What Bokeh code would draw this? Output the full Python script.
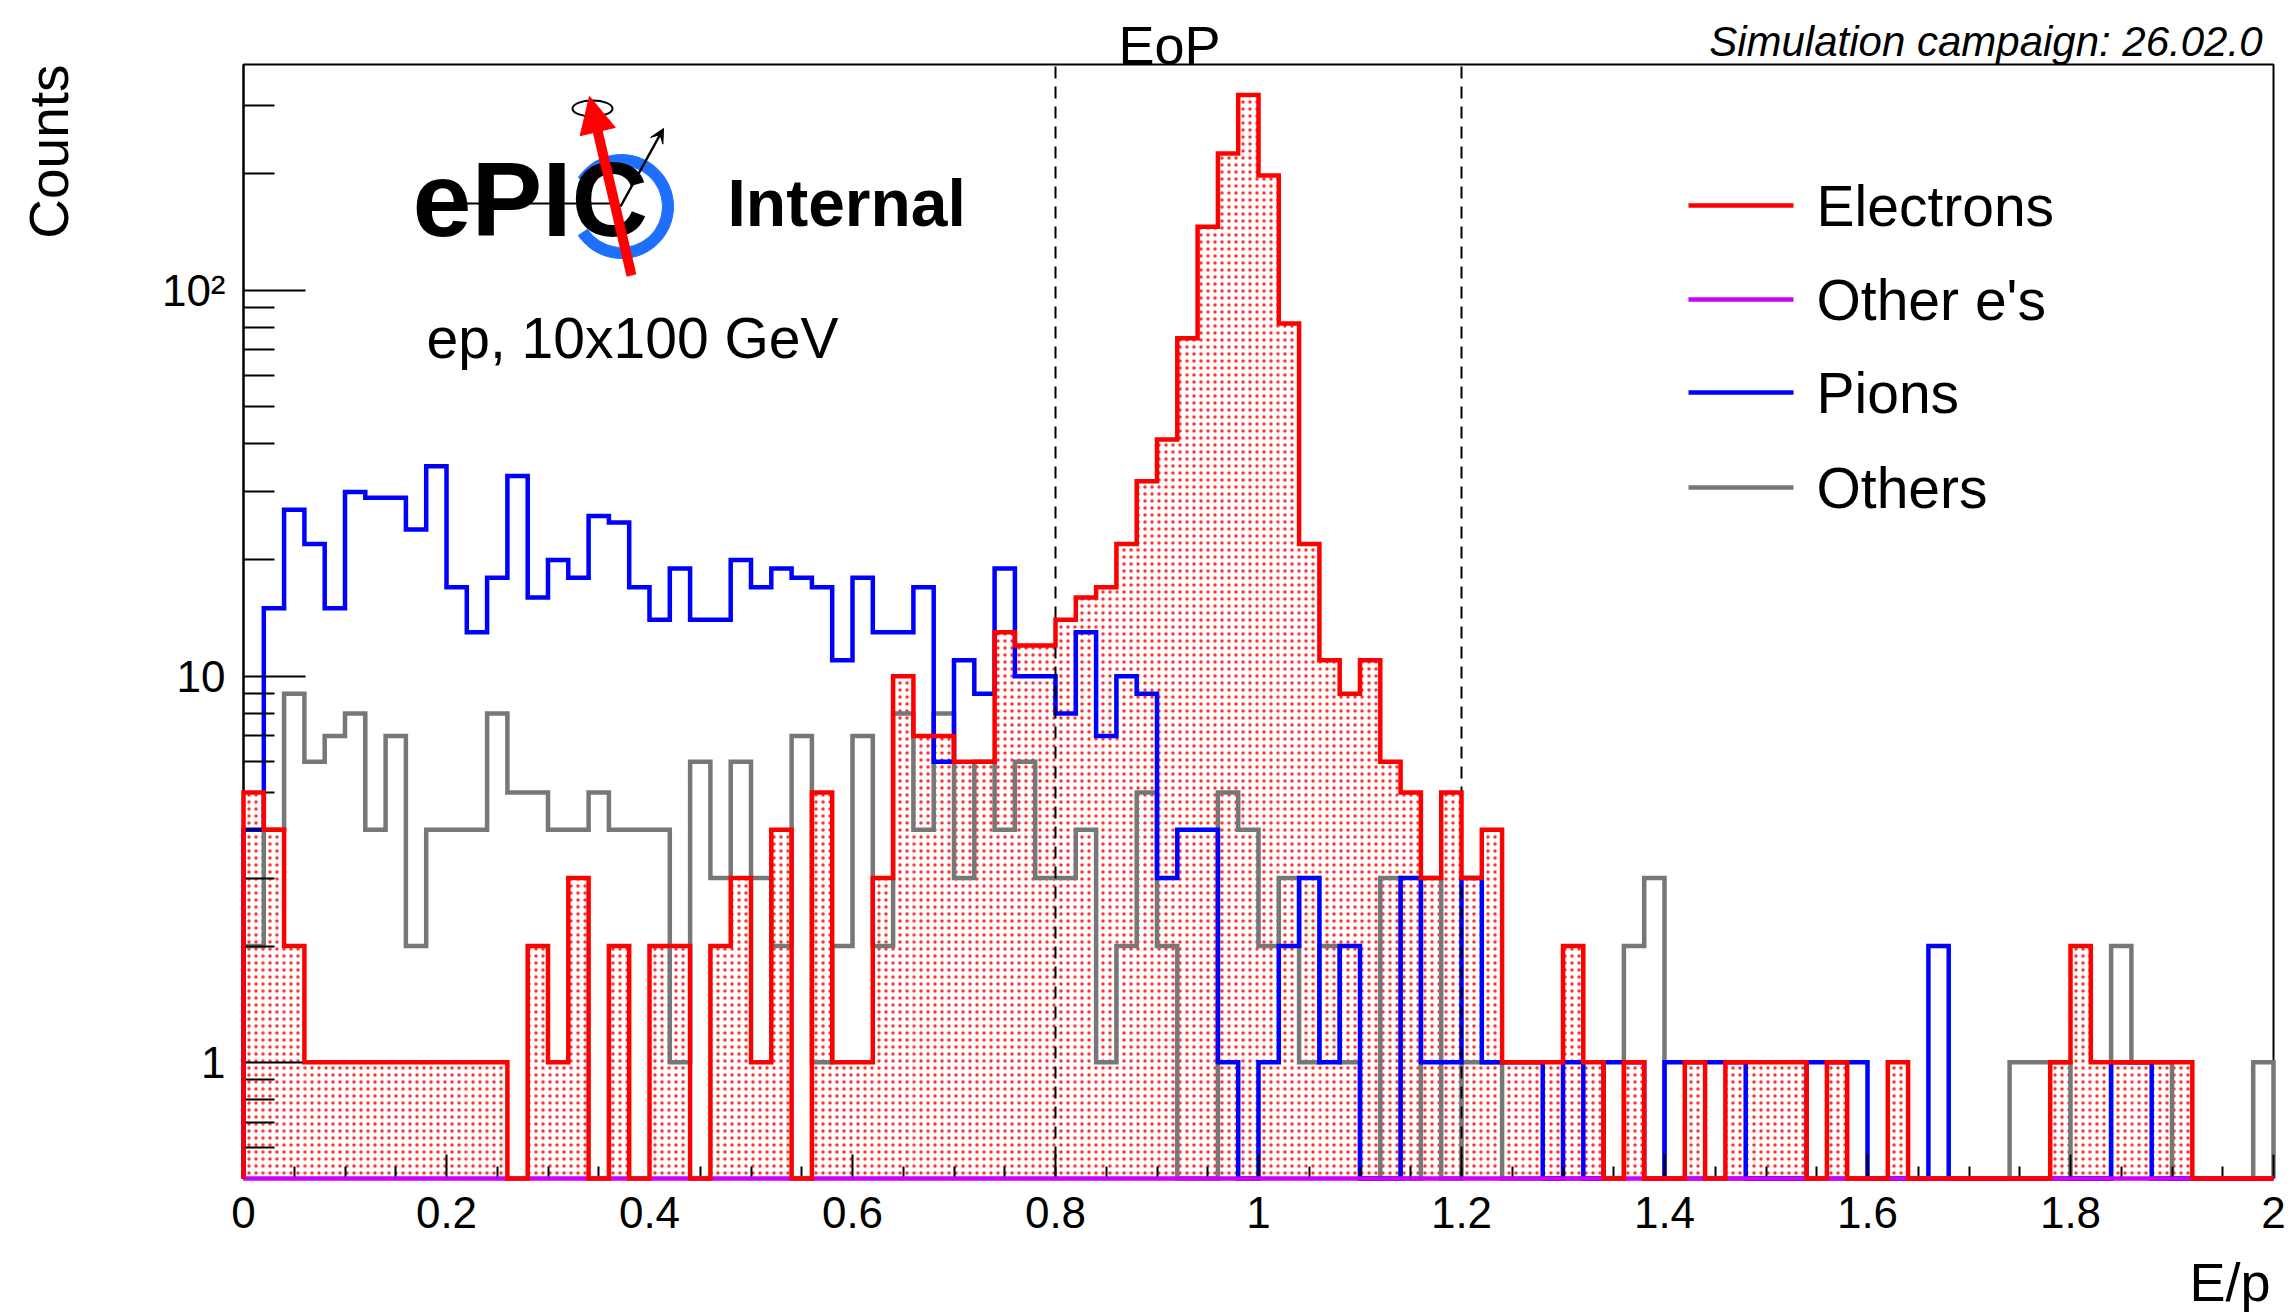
import math
from bokeh.plotting import figure
from bokeh.models import FixedTicker, Label, Arrow, NormalHead, VeeHead, Range1d
from bokeh.embed import file_html
from bokeh.resources import INLINE

# ---------------- data ----------------
X_MIN, X_MAX = 0.0, 2.0
N_BINS = 100
Y_MIN, Y_MAX = 0.5, 384.0
cut_lines = [0.8, 1.2]

series_names = ["Electrons", "Other e's", "Pions", "Others"]
series_colors = ["#ff0000", "#cc00ff", "#0000ff", "#777777"]

electrons = [5, 4, 2, 1, 1, 1, 1, 1, 1, 1,
             1, 1, 1, 0, 2, 1, 3, 0, 2, 0,
             2, 2, 0, 2, 3, 1, 4, 0, 5, 1,
             1, 3, 10, 7, 7, 6, 6, 13, 12, 12,
             14, 16, 17, 22, 32, 41, 75, 146, 226, 320,
             198, 82, 22, 11, 9, 11, 6, 5, 3, 5,
             3, 4, 1, 1, 1, 2, 1, 0, 1, 0,
             0, 1, 0, 1, 1, 1, 1, 0, 1, 0,
             0, 1, 0, 0, 0, 0, 0, 0, 0, 1,
             2, 1, 1, 1, 1, 1, 0, 0, 0, 0]

other_es = [0, 0, 0, 0, 0, 0, 0, 0, 0, 0,
            0, 0, 0, 0, 0, 0, 0, 0, 0, 0,
            0, 0, 0, 0, 0, 0, 0, 0, 0, 0,
            0, 0, 0, 0, 0, 0, 0, 0, 0, 0,
            0, 0, 0, 0, 0, 0, 0, 0, 0, 0,
            0, 0, 0, 0, 0, 0, 0, 0, 0, 0,
            0, 0, 0, 0, 0, 0, 0, 0, 0, 0,
            0, 0, 0, 0, 0, 0, 0, 0, 0, 0,
            0, 0, 0, 0, 0, 0, 0, 0, 0, 0,
            0, 0, 0, 0, 0, 0, 0, 0, 0, 0]

pions = [4, 15, 27, 22, 15, 30, 29, 29, 24, 35,
         17, 13, 18, 33, 16, 20, 18, 26, 25, 17,
         14, 19, 14, 14, 20, 17, 19, 18, 17, 11,
         18, 13, 13, 17, 6, 11, 9, 19, 10, 10,
         8, 13, 7, 10, 9, 3, 4, 4, 1, 0,
         1, 2, 3, 1, 2, 0, 0, 3, 1, 1,
         3, 1, 1, 1, 0, 1, 0, 1, 1, 0,
         1, 1, 1, 1, 0, 0, 0, 1, 1, 1,
         0, 0, 0, 2, 0, 0, 0, 0, 0, 0,
         0, 0, 1, 1, 0, 0, 0, 0, 0, 0]

others = [2, 4, 9, 6, 7, 8, 4, 7, 2, 4,
          4, 4, 8, 5, 5, 4, 4, 5, 4, 4,
          4, 1, 6, 3, 6, 3, 2, 7, 1, 2,
          7, 2, 8, 4, 8, 3, 6, 4, 6, 3,
          3, 4, 1, 2, 5, 2, 0, 0, 5, 4,
          2, 3, 1, 2, 1, 0, 3, 0, 3, 0,
          1, 1, 0, 0, 0, 0, 0, 0, 2, 3,
          0, 0, 0, 0, 0, 0, 0, 0, 0, 0,
          0, 0, 0, 0, 0, 0, 0, 1, 1, 1,
          0, 0, 2, 1, 1, 0, 0, 0, 0, 1]

x_ticks = [0, 0.2, 0.4, 0.6, 0.8, 1, 1.2, 1.4, 1.6, 1.8, 2]
x_tick_labels = ["0", "0.2", "0.4", "0.6", "0.8", "1", "1.2", "1.4", "1.6", "1.8", "2"]
y_ticks = [1, 10, 100]
y_tick_labels = ["1", "10", "10\u00b2"]

# ---------------- layout helpers (canvas pixels -> data) ----------------
W, H = 2295, 1313
FL, FT, FR, FB = 243, 64, 2273, 1178  # histogram frame edges, canvas pixels


def dx(px):
    return X_MIN + (px - FL) / (FR - FL) * (X_MAX - X_MIN)


def dy(py):
    lo, hi = math.log10(Y_MIN), math.log10(Y_MAX)
    return 10 ** (lo + (FB - py) / (FB - FT) * (hi - lo))


bw = (X_MAX - X_MIN) / N_BINS
edges = [X_MIN + i * bw for i in range(N_BINS + 1)]


def step_path(counts):
    xs, ys = [edges[0]], [Y_MIN]
    for i, c in enumerate(counts):
        v = c if c > 0 else Y_MIN
        xs += [edges[i], edges[i + 1]]
        ys += [v, v]
    xs.append(edges[-1])
    ys.append(Y_MIN)
    return xs, ys


p = figure(width=W, height=H, x_range=Range1d(dx(0), dx(W)), y_range=Range1d(dy(H), dy(0)),
           y_axis_type="log", output_backend="svg", toolbar_location=None,
           min_border_left=0, min_border_right=0, min_border_top=0, min_border_bottom=0)
p.title.visible = False
p.grid.visible = False
p.outline_line_color = None
p.background_fill_color = "white"
p.border_fill_color = "white"

# axes drawn at the histogram frame edges
p.xaxis.fixed_location = Y_MIN
p.xaxis.bounds = (X_MIN, X_MAX)
p.yaxis.fixed_location = X_MIN
p.yaxis.bounds = (Y_MIN, Y_MAX)
p.xaxis.ticker = FixedTicker(ticks=x_ticks,
                             minor_ticks=[round(0.05 * i, 2) for i in range(41) if i % 4 != 0])
p.xaxis.major_label_overrides = {t: s for t, s in zip(x_ticks, x_tick_labels)}
p.yaxis.ticker = FixedTicker(ticks=y_ticks,
                             minor_ticks=[0.6, 0.7, 0.8, 0.9, 2, 3, 4, 5, 6, 7, 8, 9,
                                          20, 30, 40, 50, 60, 70, 80, 90, 200, 300])
p.yaxis.major_label_overrides = {t: s for t, s in zip(y_ticks, y_tick_labels)}
for ax in (p.xaxis, p.yaxis):
    ax.major_tick_out = 0
    ax.minor_tick_out = 0
    ax.axis_line_width = 2
    ax.major_tick_line_width = 2
    ax.minor_tick_line_width = 2
    ax.major_label_text_font = "Liberation Sans"
    ax.major_label_text_font_size = "44px"
    ax.major_label_text_color = "black"
p.xaxis.major_tick_in = 24
p.xaxis.minor_tick_in = 12
p.xaxis.major_label_standoff = 18
p.yaxis.major_tick_in = 62
p.yaxis.minor_tick_in = 31
p.yaxis.major_label_standoff = 18

# frame box (top and right edges)
p.quad(left=[X_MIN], right=[X_MAX], bottom=[Y_MIN], top=[Y_MAX], fill_color=None,
       line_color="black", line_width=2)

# histograms
e_tops = [c if c > 0 else Y_MIN for c in electrons]
p.quad(left=edges[:-1], right=edges[1:], bottom=Y_MIN, top=e_tops,
       fill_alpha=0, line_color=None, hatch_pattern="dot", hatch_color=series_colors[0],
       hatch_scale=7, hatch_weight=1.0, hatch_alpha=0.8)

for counts, col, lvl in [(others, series_colors[3], "glyph"), (pions, series_colors[2], "glyph"),
                         (other_es, series_colors[1], "overlay"),
                         (electrons, series_colors[0], "overlay")]:
    xs, ys = step_path(counts)
    p.line(xs, ys, line_color=col, line_width=4.5, line_join="miter", level=lvl)

# cut lines
p.segment(x0=cut_lines, y0=[Y_MIN] * len(cut_lines), x1=cut_lines, y1=[Y_MAX] * len(cut_lines),
          line_color="black", line_width=2, line_dash="12 8")

# legend (drawn by hand, ROOT-style, no frame)
leg_y = [205, 299, 392, 487]
for name, col, yy in zip(series_names, series_colors, leg_y):
    p.segment(x0=[dx(1688)], y0=[dy(yy)], x1=[dx(1793)], y1=[dy(yy)], line_color=col, line_width=4.5)
    p.add_layout(Label(x=dx(1816), y=dy(yy), text=name, text_font="Liberation Sans",
                       text_font_size="57px", text_align="left", text_baseline="middle",
                       text_color="black"))

# ePIC logo
p.annular_wedge(x=[dx(621)], y=[dy(206)], inner_radius=41, outer_radius=52,
                inner_radius_units="screen", outer_radius_units="screen",
                start_angle=-2.55, end_angle=2.55, color="#1f6fff")
p.add_layout(Label(x=dx(412), y=dy(198), text="ePIC", text_font="Liberation Sans",
                   text_font_style="bold", text_font_size="106px", text_align="left",
                   text_baseline="middle", text_color="black"))
p.segment(x0=[dx(420)], y0=[dy(203)], x1=[dx(618)], y1=[dy(203)], line_color="black", line_width=2)
p.add_layout(Arrow(x_start=dx(631), y_start=dy(275), x_end=dx(589), y_end=dy(96),
                   line_color="#ff0000", line_width=10,
                   end=NormalHead(size=36, fill_color="#ff0000", line_color="#ff0000")))
p.add_layout(Arrow(x_start=dx(620), y_start=dy(206), x_end=dx(663), y_end=dy(128),
                   line_color="black", line_width=2.5,
                   end=VeeHead(size=14, fill_color="black", line_color="black")))
p.ellipse(x=[dx(592)], y=[dy(108)], width=40, height=16, width_units="screen",
          height_units="screen", fill_color=None, line_color="black", line_width=2)

p.add_layout(Label(x=dx(727), y=dy(202), text="Internal", text_font="Liberation Sans",
                   text_font_style="bold", text_font_size="66px", text_align="left",
                   text_baseline="middle", text_color="black"))
p.add_layout(Label(x=dx(426), y=dy(337), text="ep, 10x100 GeV", text_font="Liberation Sans",
                   text_font_size="57px", text_align="left", text_baseline="middle",
                   text_color="black"))

# outer texts
p.add_layout(Label(x=dx(1169), y=dy(44), text="EoP", text_font="Liberation Sans",
                   text_font_size="54px", text_align="center", text_baseline="middle",
                   text_color="black"))
p.add_layout(Label(x=dx(2262), y=dy(41), text="Simulation campaign: 26.02.0",
                   text_font="Liberation Sans", text_font_style="italic",
                   text_font_size="42px", text_align="right", text_baseline="middle",
                   text_color="black"))
p.add_layout(Label(x=dx(2270), y=dy(1281), text="E/p", text_font="Liberation Sans",
                   text_font_size="54px", text_align="right", text_baseline="middle",
                   text_color="black"))
p.add_layout(Label(x=dx(48), y=dy(64), text="Counts", text_font="Liberation Sans",
                   text_font_size="55px", text_align="right", text_baseline="middle",
                   angle=math.pi / 2, text_color="black"))

open("out.html", "w").write(file_html(p, INLINE))
